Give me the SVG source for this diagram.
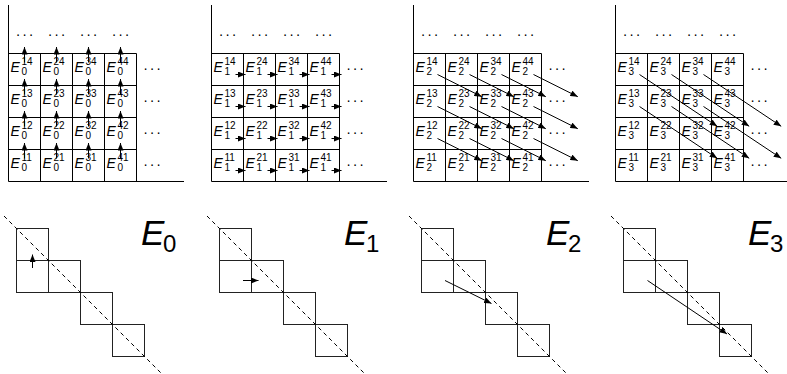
<svg xmlns="http://www.w3.org/2000/svg" xmlns:xlink="http://www.w3.org/1999/xlink" width="787" height="374" viewBox="0 0 787 374">
<style>
.e{font-family:"Liberation Sans",Arial,sans-serif;font-style:italic;font-size:14px;fill:#000}
.s{font-style:normal;font-size:10px}
.big{font-family:"Liberation Sans",Arial,sans-serif;font-style:italic;font-size:35px;fill:#000}
.bs{font-style:normal;font-size:24px}
.dots{font-family:"Liberation Sans",Arial,sans-serif;font-size:14px;letter-spacing:1.8px;text-anchor:middle;fill:#000}
.grid{fill:none;stroke:#000;stroke-width:1}
.conn line{stroke:#000;stroke-width:1;marker-end:url(#ah)}
.st{fill:none;stroke:#222;stroke-width:1}
.dash{stroke:#000;stroke-width:1;stroke-dasharray:4 3.5}
</style>
<defs>
<marker id="ah" viewBox="0 0 7.5 6" refX="7.5" refY="3" markerWidth="7.5" markerHeight="6" markerUnits="userSpaceOnUse" orient="auto">
<path d="M0,0 L7.5,3 L0,6 Z" fill="#000"/>
</marker>
<path id="grid" class="grid" d="M8.5,5V181.5H184M8.5,53.5H136.5M8.5,85.5H136.5M8.5,117.5H136.5M8.5,149.5H136.5M40.5,53.5V181.5M72.5,53.5V181.5M104.5,53.5V181.5M136.5,53.5V181.5"/>
<g id="stair">
<rect class="st" x="16.5" y="228.5" width="32" height="32"/>
<rect class="st" x="16.5" y="260.5" width="32" height="32"/>
<rect class="st" x="48.5" y="260.5" width="32" height="32"/>
<rect class="st" x="80.5" y="292.5" width="32" height="32"/>
<rect class="st" x="112.5" y="324.5" width="32" height="32"/>
<line class="dash" x1="4" y1="216" x2="161" y2="373"/>
</g>
</defs>

<!-- ===== Panel E0 ===== -->
<g id="panel0">
<use xlink:href="#grid" href="#grid"/>
<g id="p0-dots">
<text class="dots" x="25.5" y="39">···</text><text class="dots" x="57.5" y="39">···</text><text class="dots" x="89.5" y="39">···</text><text class="dots" x="121.5" y="39">···</text>
<text class="dots" x="153" y="72.5">···</text><text class="dots" x="153" y="104.5">···</text><text class="dots" x="153" y="136.5">···</text><text class="dots" x="153" y="168.5">···</text>
</g>
<g id="p0-14" transform="translate(8.5,53.5)"><text class="e" x="2" y="18.5">E<tspan class="s" x="13" y="11">14</tspan><tspan class="s" x="13" y="21.5">0</tspan></text></g>
<g id="p0-24" transform="translate(40.5,53.5)"><text class="e" x="2" y="18.5">E<tspan class="s" x="13" y="11">24</tspan><tspan class="s" x="13" y="21.5">0</tspan></text></g>
<g id="p0-34" transform="translate(72.5,53.5)"><text class="e" x="2" y="18.5">E<tspan class="s" x="13" y="11">34</tspan><tspan class="s" x="13" y="21.5">0</tspan></text></g>
<g id="p0-44" transform="translate(104.5,53.5)"><text class="e" x="2" y="18.5">E<tspan class="s" x="13" y="11">44</tspan><tspan class="s" x="13" y="21.5">0</tspan></text></g>
<g id="p0-13" transform="translate(8.5,85.5)"><text class="e" x="2" y="18.5">E<tspan class="s" x="13" y="11">13</tspan><tspan class="s" x="13" y="21.5">0</tspan></text></g>
<g id="p0-23" transform="translate(40.5,85.5)"><text class="e" x="2" y="18.5">E<tspan class="s" x="13" y="11">23</tspan><tspan class="s" x="13" y="21.5">0</tspan></text></g>
<g id="p0-33" transform="translate(72.5,85.5)"><text class="e" x="2" y="18.5">E<tspan class="s" x="13" y="11">33</tspan><tspan class="s" x="13" y="21.5">0</tspan></text></g>
<g id="p0-43" transform="translate(104.5,85.5)"><text class="e" x="2" y="18.5">E<tspan class="s" x="13" y="11">43</tspan><tspan class="s" x="13" y="21.5">0</tspan></text></g>
<g id="p0-12" transform="translate(8.5,117.5)"><text class="e" x="2" y="18.5">E<tspan class="s" x="13" y="11">12</tspan><tspan class="s" x="13" y="21.5">0</tspan></text></g>
<g id="p0-22" transform="translate(40.5,117.5)"><text class="e" x="2" y="18.5">E<tspan class="s" x="13" y="11">22</tspan><tspan class="s" x="13" y="21.5">0</tspan></text></g>
<g id="p0-32" transform="translate(72.5,117.5)"><text class="e" x="2" y="18.5">E<tspan class="s" x="13" y="11">32</tspan><tspan class="s" x="13" y="21.5">0</tspan></text></g>
<g id="p0-42" transform="translate(104.5,117.5)"><text class="e" x="2" y="18.5">E<tspan class="s" x="13" y="11">42</tspan><tspan class="s" x="13" y="21.5">0</tspan></text></g>
<g id="p0-11" transform="translate(8.5,149.5)"><text class="e" x="2" y="18.5">E<tspan class="s" x="13" y="11">11</tspan><tspan class="s" x="13" y="21.5">0</tspan></text></g>
<g id="p0-21" transform="translate(40.5,149.5)"><text class="e" x="2" y="18.5">E<tspan class="s" x="13" y="11">21</tspan><tspan class="s" x="13" y="21.5">0</tspan></text></g>
<g id="p0-31" transform="translate(72.5,149.5)"><text class="e" x="2" y="18.5">E<tspan class="s" x="13" y="11">31</tspan><tspan class="s" x="13" y="21.5">0</tspan></text></g>
<g id="p0-41" transform="translate(104.5,149.5)"><text class="e" x="2" y="18.5">E<tspan class="s" x="13" y="11">41</tspan><tspan class="s" x="13" y="21.5">0</tspan></text></g>
<g id="p0-arrows" class="conn">
<line x1="24.5" y1="158.5" x2="24.5" y2="143"/><line x1="56.5" y1="158.5" x2="56.5" y2="143"/><line x1="88.5" y1="158.5" x2="88.5" y2="143"/><line x1="120.5" y1="158.5" x2="120.5" y2="143"/>
<line x1="24.5" y1="126.5" x2="24.5" y2="111"/><line x1="56.5" y1="126.5" x2="56.5" y2="111"/><line x1="88.5" y1="126.5" x2="88.5" y2="111"/><line x1="120.5" y1="126.5" x2="120.5" y2="111"/>
<line x1="24.5" y1="94.5" x2="24.5" y2="79"/><line x1="56.5" y1="94.5" x2="56.5" y2="79"/><line x1="88.5" y1="94.5" x2="88.5" y2="79"/><line x1="120.5" y1="94.5" x2="120.5" y2="79"/>
<line x1="24.5" y1="62.5" x2="24.5" y2="47"/><line x1="56.5" y1="62.5" x2="56.5" y2="47"/><line x1="88.5" y1="62.5" x2="88.5" y2="47"/><line x1="120.5" y1="62.5" x2="120.5" y2="47"/>
</g>
<g id="b0">
<use xlink:href="#stair" href="#stair"/>
<g class="conn"><line x1="32.5" y1="268" x2="32.5" y2="254.5"/></g>
<text class="big" x="141" y="245">E<tspan class="bs" x="163" y="251.5">0</tspan></text>
</g>
</g>

<!-- ===== Panel E1 ===== -->
<g id="panel1" transform="translate(203,0)">
<use xlink:href="#grid" href="#grid"/>
<g id="p1-dots">
<text class="dots" x="25.5" y="39">···</text><text class="dots" x="57.5" y="39">···</text><text class="dots" x="89.5" y="39">···</text><text class="dots" x="121.5" y="39">···</text>
<text class="dots" x="153" y="72.5">···</text><text class="dots" x="153" y="104.5">···</text><text class="dots" x="153" y="136.5">···</text><text class="dots" x="153" y="168.5">···</text>
</g>
<g id="p1-14" transform="translate(8.5,53.5)"><text class="e" x="2" y="18.5">E<tspan class="s" x="13" y="11">14</tspan><tspan class="s" x="13" y="21.5">1</tspan></text></g>
<g id="p1-24" transform="translate(40.5,53.5)"><text class="e" x="2" y="18.5">E<tspan class="s" x="13" y="11">24</tspan><tspan class="s" x="13" y="21.5">1</tspan></text></g>
<g id="p1-34" transform="translate(72.5,53.5)"><text class="e" x="2" y="18.5">E<tspan class="s" x="13" y="11">34</tspan><tspan class="s" x="13" y="21.5">1</tspan></text></g>
<g id="p1-44" transform="translate(104.5,53.5)"><text class="e" x="2" y="18.5">E<tspan class="s" x="13" y="11">44</tspan><tspan class="s" x="13" y="21.5">1</tspan></text></g>
<g id="p1-13" transform="translate(8.5,85.5)"><text class="e" x="2" y="18.5">E<tspan class="s" x="13" y="11">13</tspan><tspan class="s" x="13" y="21.5">1</tspan></text></g>
<g id="p1-23" transform="translate(40.5,85.5)"><text class="e" x="2" y="18.5">E<tspan class="s" x="13" y="11">23</tspan><tspan class="s" x="13" y="21.5">1</tspan></text></g>
<g id="p1-33" transform="translate(72.5,85.5)"><text class="e" x="2" y="18.5">E<tspan class="s" x="13" y="11">33</tspan><tspan class="s" x="13" y="21.5">1</tspan></text></g>
<g id="p1-43" transform="translate(104.5,85.5)"><text class="e" x="2" y="18.5">E<tspan class="s" x="13" y="11">43</tspan><tspan class="s" x="13" y="21.5">1</tspan></text></g>
<g id="p1-12" transform="translate(8.5,117.5)"><text class="e" x="2" y="18.5">E<tspan class="s" x="13" y="11">12</tspan><tspan class="s" x="13" y="21.5">1</tspan></text></g>
<g id="p1-22" transform="translate(40.5,117.5)"><text class="e" x="2" y="18.5">E<tspan class="s" x="13" y="11">22</tspan><tspan class="s" x="13" y="21.5">1</tspan></text></g>
<g id="p1-32" transform="translate(72.5,117.5)"><text class="e" x="2" y="18.5">E<tspan class="s" x="13" y="11">32</tspan><tspan class="s" x="13" y="21.5">1</tspan></text></g>
<g id="p1-42" transform="translate(104.5,117.5)"><text class="e" x="2" y="18.5">E<tspan class="s" x="13" y="11">42</tspan><tspan class="s" x="13" y="21.5">1</tspan></text></g>
<g id="p1-11" transform="translate(8.5,149.5)"><text class="e" x="2" y="18.5">E<tspan class="s" x="13" y="11">11</tspan><tspan class="s" x="13" y="21.5">1</tspan></text></g>
<g id="p1-21" transform="translate(40.5,149.5)"><text class="e" x="2" y="18.5">E<tspan class="s" x="13" y="11">21</tspan><tspan class="s" x="13" y="21.5">1</tspan></text></g>
<g id="p1-31" transform="translate(72.5,149.5)"><text class="e" x="2" y="18.5">E<tspan class="s" x="13" y="11">31</tspan><tspan class="s" x="13" y="21.5">1</tspan></text></g>
<g id="p1-41" transform="translate(104.5,149.5)"><text class="e" x="2" y="18.5">E<tspan class="s" x="13" y="11">41</tspan><tspan class="s" x="13" y="21.5">1</tspan></text></g>
<g id="p1-arrows" class="conn">
<line x1="32.5" y1="74.5" x2="42.5" y2="74.5"/><line x1="64.5" y1="74.5" x2="74.5" y2="74.5"/><line x1="96.5" y1="74.5" x2="106.5" y2="74.5"/><line x1="128.5" y1="74.5" x2="138.5" y2="74.5"/>
<line x1="32.5" y1="106.5" x2="42.5" y2="106.5"/><line x1="64.5" y1="106.5" x2="74.5" y2="106.5"/><line x1="96.5" y1="106.5" x2="106.5" y2="106.5"/><line x1="128.5" y1="106.5" x2="138.5" y2="106.5"/>
<line x1="32.5" y1="138.5" x2="42.5" y2="138.5"/><line x1="64.5" y1="138.5" x2="74.5" y2="138.5"/><line x1="96.5" y1="138.5" x2="106.5" y2="138.5"/><line x1="128.5" y1="138.5" x2="138.5" y2="138.5"/>
<line x1="32.5" y1="170.5" x2="42.5" y2="170.5"/><line x1="64.5" y1="170.5" x2="74.5" y2="170.5"/><line x1="96.5" y1="170.5" x2="106.5" y2="170.5"/><line x1="128.5" y1="170.5" x2="138.5" y2="170.5"/>
</g>
<g id="b1">
<use xlink:href="#stair" href="#stair"/>
<g class="conn"><line x1="40" y1="280.5" x2="55.5" y2="280.5"/></g>
<text class="big" x="141" y="245">E<tspan class="bs" x="163" y="251.5">1</tspan></text>
</g>
</g>

<!-- ===== Panel E2 ===== -->
<g id="panel2" transform="translate(405,0)">
<use xlink:href="#grid" href="#grid"/>
<g id="p2-dots">
<text class="dots" x="25.5" y="39">···</text><text class="dots" x="57.5" y="39">···</text><text class="dots" x="89.5" y="39">···</text><text class="dots" x="121.5" y="39">···</text>
<text class="dots" x="153" y="72.5">···</text><text class="dots" x="153" y="104.5">···</text><text class="dots" x="153" y="136.5">···</text><text class="dots" x="153" y="168.5">···</text>
</g>
<g id="p2-14" transform="translate(8.5,53.5)"><text class="e" x="2" y="18.5">E<tspan class="s" x="13" y="11">14</tspan><tspan class="s" x="13" y="21.5">2</tspan></text></g>
<g id="p2-24" transform="translate(40.5,53.5)"><text class="e" x="2" y="18.5">E<tspan class="s" x="13" y="11">24</tspan><tspan class="s" x="13" y="21.5">2</tspan></text></g>
<g id="p2-34" transform="translate(72.5,53.5)"><text class="e" x="2" y="18.5">E<tspan class="s" x="13" y="11">34</tspan><tspan class="s" x="13" y="21.5">2</tspan></text></g>
<g id="p2-44" transform="translate(104.5,53.5)"><text class="e" x="2" y="18.5">E<tspan class="s" x="13" y="11">44</tspan><tspan class="s" x="13" y="21.5">2</tspan></text></g>
<g id="p2-13" transform="translate(8.5,85.5)"><text class="e" x="2" y="18.5">E<tspan class="s" x="13" y="11">13</tspan><tspan class="s" x="13" y="21.5">2</tspan></text></g>
<g id="p2-23" transform="translate(40.5,85.5)"><text class="e" x="2" y="18.5">E<tspan class="s" x="13" y="11">23</tspan><tspan class="s" x="13" y="21.5">2</tspan></text></g>
<g id="p2-33" transform="translate(72.5,85.5)"><text class="e" x="2" y="18.5">E<tspan class="s" x="13" y="11">33</tspan><tspan class="s" x="13" y="21.5">2</tspan></text></g>
<g id="p2-43" transform="translate(104.5,85.5)"><text class="e" x="2" y="18.5">E<tspan class="s" x="13" y="11">43</tspan><tspan class="s" x="13" y="21.5">2</tspan></text></g>
<g id="p2-12" transform="translate(8.5,117.5)"><text class="e" x="2" y="18.5">E<tspan class="s" x="13" y="11">12</tspan><tspan class="s" x="13" y="21.5">2</tspan></text></g>
<g id="p2-22" transform="translate(40.5,117.5)"><text class="e" x="2" y="18.5">E<tspan class="s" x="13" y="11">22</tspan><tspan class="s" x="13" y="21.5">2</tspan></text></g>
<g id="p2-32" transform="translate(72.5,117.5)"><text class="e" x="2" y="18.5">E<tspan class="s" x="13" y="11">32</tspan><tspan class="s" x="13" y="21.5">2</tspan></text></g>
<g id="p2-42" transform="translate(104.5,117.5)"><text class="e" x="2" y="18.5">E<tspan class="s" x="13" y="11">42</tspan><tspan class="s" x="13" y="21.5">2</tspan></text></g>
<g id="p2-11" transform="translate(8.5,149.5)"><text class="e" x="2" y="18.5">E<tspan class="s" x="13" y="11">11</tspan><tspan class="s" x="13" y="21.5">2</tspan></text></g>
<g id="p2-21" transform="translate(40.5,149.5)"><text class="e" x="2" y="18.5">E<tspan class="s" x="13" y="11">21</tspan><tspan class="s" x="13" y="21.5">2</tspan></text></g>
<g id="p2-31" transform="translate(72.5,149.5)"><text class="e" x="2" y="18.5">E<tspan class="s" x="13" y="11">31</tspan><tspan class="s" x="13" y="21.5">2</tspan></text></g>
<g id="p2-41" transform="translate(104.5,149.5)"><text class="e" x="2" y="18.5">E<tspan class="s" x="13" y="11">41</tspan><tspan class="s" x="13" y="21.5">2</tspan></text></g>
<g id="p2-arrows" class="conn">
<line x1="32.5" y1="74.5" x2="76.8" y2="96.7"/><line x1="64.5" y1="74.5" x2="108.8" y2="96.7"/><line x1="96.5" y1="74.5" x2="140.8" y2="96.7"/><line x1="128.5" y1="74.5" x2="172.8" y2="96.7"/>
<line x1="32.5" y1="106.5" x2="76.8" y2="128.7"/><line x1="64.5" y1="106.5" x2="108.8" y2="128.7"/><line x1="96.5" y1="106.5" x2="140.8" y2="128.7"/><line x1="128.5" y1="106.5" x2="172.8" y2="128.7"/>
<line x1="32.5" y1="138.5" x2="76.8" y2="160.7"/><line x1="64.5" y1="138.5" x2="108.8" y2="160.7"/><line x1="96.5" y1="138.5" x2="140.8" y2="160.7"/><line x1="128.5" y1="138.5" x2="172.8" y2="160.7"/>
</g>
<g id="b2">
<use xlink:href="#stair" href="#stair"/>
<g class="conn"><line x1="40" y1="280.5" x2="86.5" y2="303.5"/></g>
<text class="big" x="141" y="245">E<tspan class="bs" x="163" y="251.5">2</tspan></text>
</g>
</g>

<!-- ===== Panel E3 ===== -->
<g id="panel3" transform="translate(607,0)">
<use xlink:href="#grid" href="#grid"/>
<g id="p3-dots">
<text class="dots" x="25.5" y="39">···</text><text class="dots" x="57.5" y="39">···</text><text class="dots" x="89.5" y="39">···</text><text class="dots" x="121.5" y="39">···</text>
<text class="dots" x="153" y="72.5">···</text><text class="dots" x="153" y="104.5">···</text><text class="dots" x="153" y="136.5">···</text><text class="dots" x="153" y="168.5">···</text>
</g>
<g id="p3-14" transform="translate(8.5,53.5)"><text class="e" x="2" y="18.5">E<tspan class="s" x="13" y="11">14</tspan><tspan class="s" x="13" y="21.5">3</tspan></text></g>
<g id="p3-24" transform="translate(40.5,53.5)"><text class="e" x="2" y="18.5">E<tspan class="s" x="13" y="11">24</tspan><tspan class="s" x="13" y="21.5">3</tspan></text></g>
<g id="p3-34" transform="translate(72.5,53.5)"><text class="e" x="2" y="18.5">E<tspan class="s" x="13" y="11">34</tspan><tspan class="s" x="13" y="21.5">3</tspan></text></g>
<g id="p3-44" transform="translate(104.5,53.5)"><text class="e" x="2" y="18.5">E<tspan class="s" x="13" y="11">44</tspan><tspan class="s" x="13" y="21.5">3</tspan></text></g>
<g id="p3-13" transform="translate(8.5,85.5)"><text class="e" x="2" y="18.5">E<tspan class="s" x="13" y="11">13</tspan><tspan class="s" x="13" y="21.5">3</tspan></text></g>
<g id="p3-23" transform="translate(40.5,85.5)"><text class="e" x="2" y="18.5">E<tspan class="s" x="13" y="11">23</tspan><tspan class="s" x="13" y="21.5">3</tspan></text></g>
<g id="p3-33" transform="translate(72.5,85.5)"><text class="e" x="2" y="18.5">E<tspan class="s" x="13" y="11">33</tspan><tspan class="s" x="13" y="21.5">3</tspan></text></g>
<g id="p3-43" transform="translate(104.5,85.5)"><text class="e" x="2" y="18.5">E<tspan class="s" x="13" y="11">43</tspan><tspan class="s" x="13" y="21.5">3</tspan></text></g>
<g id="p3-12" transform="translate(8.5,117.5)"><text class="e" x="2" y="18.5">E<tspan class="s" x="13" y="11">12</tspan><tspan class="s" x="13" y="21.5">3</tspan></text></g>
<g id="p3-22" transform="translate(40.5,117.5)"><text class="e" x="2" y="18.5">E<tspan class="s" x="13" y="11">22</tspan><tspan class="s" x="13" y="21.5">3</tspan></text></g>
<g id="p3-32" transform="translate(72.5,117.5)"><text class="e" x="2" y="18.5">E<tspan class="s" x="13" y="11">32</tspan><tspan class="s" x="13" y="21.5">3</tspan></text></g>
<g id="p3-42" transform="translate(104.5,117.5)"><text class="e" x="2" y="18.5">E<tspan class="s" x="13" y="11">42</tspan><tspan class="s" x="13" y="21.5">3</tspan></text></g>
<g id="p3-11" transform="translate(8.5,149.5)"><text class="e" x="2" y="18.5">E<tspan class="s" x="13" y="11">11</tspan><tspan class="s" x="13" y="21.5">3</tspan></text></g>
<g id="p3-21" transform="translate(40.5,149.5)"><text class="e" x="2" y="18.5">E<tspan class="s" x="13" y="11">21</tspan><tspan class="s" x="13" y="21.5">3</tspan></text></g>
<g id="p3-31" transform="translate(72.5,149.5)"><text class="e" x="2" y="18.5">E<tspan class="s" x="13" y="11">31</tspan><tspan class="s" x="13" y="21.5">3</tspan></text></g>
<g id="p3-41" transform="translate(104.5,149.5)"><text class="e" x="2" y="18.5">E<tspan class="s" x="13" y="11">41</tspan><tspan class="s" x="13" y="21.5">3</tspan></text></g>
<g id="p3-arrows" class="conn">
<line x1="32.5" y1="74.5" x2="110.2" y2="126.3"/><line x1="64.5" y1="74.5" x2="142.2" y2="126.3"/><line x1="96.5" y1="74.5" x2="174.2" y2="126.3"/>
<line x1="32.5" y1="106.5" x2="110.2" y2="158.3"/><line x1="64.5" y1="106.5" x2="142.2" y2="158.3"/><line x1="96.5" y1="106.5" x2="174.2" y2="158.3"/>
</g>
<g id="b3">
<use xlink:href="#stair" href="#stair"/>
<g class="conn"><line x1="40.5" y1="280.5" x2="120" y2="334"/></g>
<text class="big" x="141" y="245">E<tspan class="bs" x="163" y="251.5">3</tspan></text>
</g>
</g>
</svg>
